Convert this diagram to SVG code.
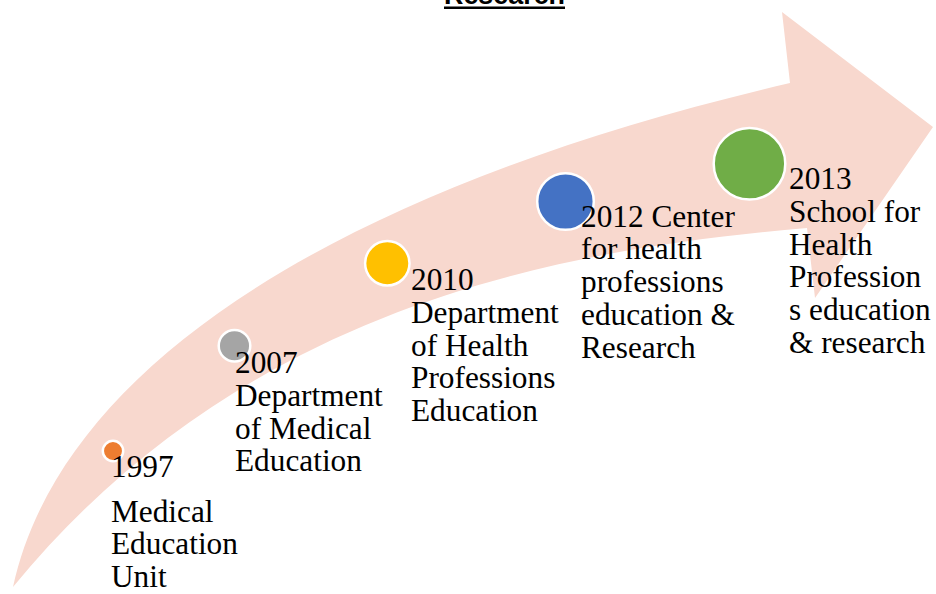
<svg xmlns="http://www.w3.org/2000/svg" width="936" height="594" viewBox="0 0 936 594">
<style>
.lbl{font-family:"Liberation Serif","Times New Roman",serif;font-size:31.3px;fill:#000}
.dot{stroke:#fff;stroke-width:2.5}
.title{font-family:"Liberation Sans",Arial,sans-serif;font-weight:bold;font-size:28px;fill:#000}
</style>
<rect x="0" y="0" width="936" height="594" fill="#fff"/>
<g id="title">
<text class="title" x="444" y="4" textLength="121" lengthAdjust="spacingAndGlyphs">Research</text>
<line x1="444" y1="7.8" x2="565" y2="7.8" stroke="#000" stroke-width="2.4"/>
</g>
<g id="connectors">
<path id="arrow" d="M13,587 C60,370 330,190 790,83 L782,12 L933,127 L815,298 L807,228 C550,250 240,310 13,587 Z" fill="#F8D8CE"/>
</g>
<g id="node-1997">
<circle class="dot" cx="113" cy="451" r="10.2" fill="#ED7D31"/>
<text class="lbl"><tspan x="111" y="477">1997</tspan><tspan x="111" y="521.5">Medical</tspan><tspan x="111" y="554.3">Education</tspan><tspan x="111" y="587">Unit</tspan></text>
</g>
<g id="node-2007">
<circle class="dot" cx="234.5" cy="345.8" r="15.8" fill="#A5A5A5"/>
<text class="lbl"><tspan x="235" y="373">2007</tspan><tspan x="235" y="405.8">Department</tspan><tspan x="235" y="438.5">of Medical</tspan><tspan x="235" y="471.3">Education</tspan></text>
</g>
<g id="node-2010">
<circle class="dot" cx="387.3" cy="263.3" r="22.2" fill="#FFC000"/>
<text class="lbl"><tspan x="411" y="290">2010</tspan><tspan x="411" y="322.8">Department</tspan><tspan x="411" y="355.5">of Health</tspan><tspan x="411" y="388.3">Professions</tspan><tspan x="411" y="421">Education</tspan></text>
</g>
<g id="node-2012">
<circle class="dot" cx="565.5" cy="201.5" r="28.3" fill="#4472C4"/>
<text class="lbl"><tspan x="581" y="226.5">2012 Center</tspan><tspan x="581" y="259.3">for health</tspan><tspan x="581" y="292">professions</tspan><tspan x="581" y="324.8">education &amp;</tspan><tspan x="581" y="357.5">Research</tspan></text>
</g>
<g id="node-2013">
<circle class="dot" cx="749.5" cy="163.8" r="35.8" fill="#70AD47"/>
<text class="lbl"><tspan x="789" y="189">2013</tspan><tspan x="789" y="221.8">School for</tspan><tspan x="789" y="254.5">Health</tspan><tspan x="789" y="287.3">Profession</tspan><tspan x="789" y="320">s education</tspan><tspan x="789" y="352.8">&amp; research</tspan></text>
</g>
</svg>
